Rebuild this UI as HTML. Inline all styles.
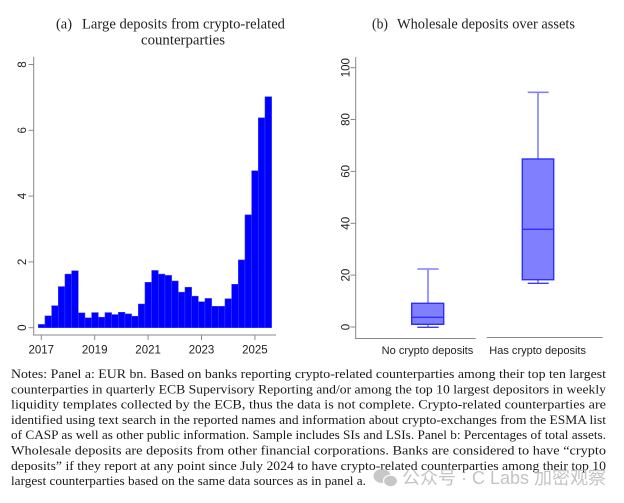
<!DOCTYPE html>
<html>
<head>
<meta charset="utf-8">
<style>
html,body{margin:0;padding:0;background:#fff;}
svg{display:block;}
</style>
</head>
<body>
<svg width="624" height="503" viewBox="0 0 624 503" xmlns="http://www.w3.org/2000/svg">
<rect width="624" height="503" fill="#fff"/>

<!-- Titles -->
<g font-family="Liberation Serif, serif" font-size="15" fill="#222">
  <text x="56" y="28.5" textLength="16" lengthAdjust="spacingAndGlyphs">(a)</text>
  <text x="82" y="28.5" textLength="203" lengthAdjust="spacingAndGlyphs">Large deposits from crypto-related</text>
  <text x="141" y="44.5" textLength="84" lengthAdjust="spacingAndGlyphs">counterparties</text>
  <text x="372" y="28.5" textLength="16" lengthAdjust="spacingAndGlyphs">(b)</text>
  <text x="397" y="28.5" textLength="178" lengthAdjust="spacingAndGlyphs">Wholesale deposits over assets</text>
</g>

<!-- Panel a -->
<g stroke="#888" stroke-width="1" fill="none">
  <line x1="33.7" y1="56.7" x2="33.7" y2="335.5"/>
  <line x1="33.2" y1="335" x2="276" y2="335"/>
  <line x1="28.5" y1="327.7" x2="33.7" y2="327.7"/>
  <line x1="28.5" y1="261.9" x2="33.7" y2="261.9"/>
  <line x1="28.5" y1="196.1" x2="33.7" y2="196.1"/>
  <line x1="28.5" y1="130.3" x2="33.7" y2="130.3"/>
  <line x1="28.5" y1="64.5" x2="33.7" y2="64.5"/>
  <line x1="41.3" y1="335" x2="41.3" y2="340"/>
  <line x1="94.7" y1="335" x2="94.7" y2="340"/>
  <line x1="148.1" y1="335" x2="148.1" y2="340"/>
  <line x1="201.5" y1="335" x2="201.5" y2="340"/>
  <line x1="254.9" y1="335" x2="254.9" y2="340"/>
</g>
<g fill="#0000ff" stroke="#4040ff" stroke-width="0.5">
  <rect x="38.30" y="324.41" width="6.67" height="3.29"/>
  <rect x="44.97" y="315.86" width="6.67" height="11.84"/>
  <rect x="51.63" y="305.66" width="6.67" height="22.04"/>
  <rect x="58.30" y="286.57" width="6.67" height="41.13"/>
  <rect x="64.97" y="274.07" width="6.67" height="53.63"/>
  <rect x="71.63" y="270.78" width="6.67" height="56.92"/>
  <rect x="78.30" y="312.89" width="6.67" height="14.81"/>
  <rect x="84.97" y="317.83" width="6.67" height="9.87"/>
  <rect x="91.64" y="312.57" width="6.67" height="15.13"/>
  <rect x="98.30" y="317.17" width="6.67" height="10.53"/>
  <rect x="104.97" y="312.57" width="6.67" height="15.13"/>
  <rect x="111.64" y="314.54" width="6.67" height="13.16"/>
  <rect x="118.30" y="312.24" width="6.67" height="15.46"/>
  <rect x="124.97" y="313.88" width="6.67" height="13.82"/>
  <rect x="131.64" y="316.18" width="6.67" height="11.52"/>
  <rect x="138.31" y="304.01" width="6.67" height="23.69"/>
  <rect x="144.97" y="282.30" width="6.67" height="45.40"/>
  <rect x="151.64" y="270.45" width="6.67" height="57.25"/>
  <rect x="158.31" y="274.07" width="6.67" height="53.63"/>
  <rect x="164.97" y="275.39" width="6.67" height="52.31"/>
  <rect x="171.64" y="280.98" width="6.67" height="46.72"/>
  <rect x="178.31" y="292.17" width="6.67" height="35.53"/>
  <rect x="184.97" y="287.23" width="6.67" height="40.47"/>
  <rect x="191.64" y="296.12" width="6.67" height="31.58"/>
  <rect x="198.31" y="301.71" width="6.67" height="25.99"/>
  <rect x="204.98" y="298.42" width="6.67" height="29.28"/>
  <rect x="211.64" y="306.31" width="6.67" height="21.39"/>
  <rect x="218.31" y="306.31" width="6.67" height="21.39"/>
  <rect x="224.98" y="298.75" width="6.67" height="28.95"/>
  <rect x="231.64" y="284.27" width="6.67" height="43.43"/>
  <rect x="238.31" y="259.93" width="6.67" height="67.77"/>
  <rect x="244.98" y="214.85" width="6.67" height="112.85"/>
  <rect x="251.64" y="170.77" width="6.67" height="156.93"/>
  <rect x="258.31" y="117.80" width="6.67" height="209.90"/>
  <rect x="264.98" y="96.74" width="6.67" height="230.96"/>
</g>
<g font-family="Liberation Sans, sans-serif" font-size="11.5" fill="#222" text-anchor="middle">
  <text transform="translate(26.2,327.7) rotate(-90)">0</text>
  <text transform="translate(26.2,261.9) rotate(-90)">2</text>
  <text transform="translate(26.2,196.1) rotate(-90)">4</text>
  <text transform="translate(26.2,130.3) rotate(-90)">6</text>
  <text transform="translate(26.2,64.5) rotate(-90)">8</text>
  <text x="41.3" y="353.5">2017</text>
  <text x="94.7" y="353.5">2019</text>
  <text x="148.1" y="353.5">2021</text>
  <text x="201.5" y="353.5">2023</text>
  <text x="254.9" y="353.5">2025</text>
</g>

<!-- Panel b -->
<g stroke="#888" stroke-width="1" fill="none">
  <line x1="355.7" y1="57" x2="355.7" y2="339"/>
  <line x1="355.2" y1="338.5" x2="475.7" y2="338.5"/>
  <line x1="486.7" y1="337.5" x2="602.7" y2="337.5"/>
  <line x1="350.5" y1="327" x2="355.7" y2="327"/>
  <line x1="350.5" y1="275.1" x2="355.7" y2="275.1"/>
  <line x1="350.5" y1="223.3" x2="355.7" y2="223.3"/>
  <line x1="350.5" y1="171.4" x2="355.7" y2="171.4"/>
  <line x1="350.5" y1="119.5" x2="355.7" y2="119.5"/>
  <line x1="350.5" y1="67.7" x2="355.7" y2="67.7"/>
</g>
<g font-family="Liberation Sans, sans-serif" font-size="11.5" fill="#222" text-anchor="middle">
  <text transform="translate(349.3,327) rotate(-90)">0</text>
  <text transform="translate(349.3,275.1) rotate(-90)">20</text>
  <text transform="translate(349.3,223.3) rotate(-90)">40</text>
  <text transform="translate(349.3,171.4) rotate(-90)">60</text>
  <text transform="translate(349.3,119.5) rotate(-90)">80</text>
  <text transform="translate(349.3,67.7) rotate(-90)">100</text>
</g>
<g font-family="Liberation Sans, sans-serif" font-size="11" fill="#222">
  <text x="381.7" y="354" textLength="91.6" lengthAdjust="spacingAndGlyphs">No crypto deposits</text>
  <text x="489.3" y="354" textLength="96.7" lengthAdjust="spacingAndGlyphs">Has crypto deposits</text>
</g>
<!-- box 1 -->
<g>
  <line x1="428" y1="303.3" x2="428" y2="269" stroke="#8080ff" stroke-width="1.6"/>
  <line x1="417.3" y1="269" x2="438.7" y2="269" stroke="#8080ff" stroke-width="1.6"/>
  <line x1="428" y1="324.3" x2="428" y2="327.3" stroke="#8080ff" stroke-width="1.6"/>
  <line x1="417.3" y1="327.3" x2="438.7" y2="327.3" stroke="#3a3aff" stroke-width="1.4"/>
  <rect x="411.7" y="303.3" width="32" height="21" fill="#8080ff" stroke="#2e2eff" stroke-width="1.4"/>
  <line x1="411.7" y1="317.3" x2="443.7" y2="317.3" stroke="#2e2eff" stroke-width="1.4"/>
</g>
<!-- box 2 -->
<g>
  <line x1="538" y1="159" x2="538" y2="92.3" stroke="#8080ff" stroke-width="1.6"/>
  <line x1="527.7" y1="92.3" x2="548.7" y2="92.3" stroke="#8080ff" stroke-width="1.6"/>
  <line x1="538" y1="279.7" x2="538" y2="283.3" stroke="#8080ff" stroke-width="1.6"/>
  <line x1="527.7" y1="283.3" x2="548.7" y2="283.3" stroke="#3a3aff" stroke-width="1.4"/>
  <rect x="522.3" y="159" width="31.4" height="120.7" fill="#8080ff" stroke="#2e2eff" stroke-width="1.4"/>
  <line x1="522.3" y1="229.3" x2="553.7" y2="229.3" stroke="#2e2eff" stroke-width="1.4"/>
</g>

<!-- Notes -->
<g font-family="Liberation Serif, serif" font-size="13" fill="#1a1a1a">
  <text x="11" y="378" textLength="595" lengthAdjust="spacingAndGlyphs">Notes: Panel a: EUR bn. Based on banks reporting crypto-related counterparties among their top ten largest</text>
  <text x="11" y="393.3" textLength="595" lengthAdjust="spacingAndGlyphs">counterparties in quarterly ECB Supervisory Reporting and/or among the top 10 largest depositors in weekly</text>
  <text x="11" y="408.6" textLength="595" lengthAdjust="spacingAndGlyphs">liquidity templates collected by the ECB, thus the data is not complete. Crypto-related counterparties are</text>
  <text x="11" y="423.9" textLength="595" lengthAdjust="spacingAndGlyphs">identified using text search in the reported names and information about crypto-exchanges from the ESMA list</text>
  <text x="11" y="439.2" textLength="595" lengthAdjust="spacingAndGlyphs">of CASP as well as other public information. Sample includes SIs and LSIs. Panel b: Percentages of total assets.</text>
  <text x="11" y="454.5" textLength="595" lengthAdjust="spacingAndGlyphs">Wholesale deposits are deposits from other financial corporations. Banks are considered to have “crypto</text>
  <text x="11" y="469.8" textLength="595" lengthAdjust="spacingAndGlyphs">deposits” if they report at any point since July 2024 to have crypto-related counterparties among their top 10</text>
  <text x="11" y="485.1" textLength="355" lengthAdjust="spacingAndGlyphs">largest counterparties based on the same data sources as in panel a.</text>
</g>

<!-- Watermark -->
<g opacity="0.75">
  <ellipse cx="382" cy="476" rx="8.5" ry="7" fill="#b5b5b5"/>
  <ellipse cx="390.5" cy="481" rx="7" ry="5.8" fill="#b5b5b5" stroke="#fff" stroke-width="1.2"/>
  <text x="402" y="484" font-family="Liberation Sans, 'Noto Sans CJK SC', sans-serif" font-size="18" fill="#b0b0b0" textLength="204" lengthAdjust="spacingAndGlyphs">公众号 · C Labs 加密观察</text>
</g>
</svg>
</body>
</html>
